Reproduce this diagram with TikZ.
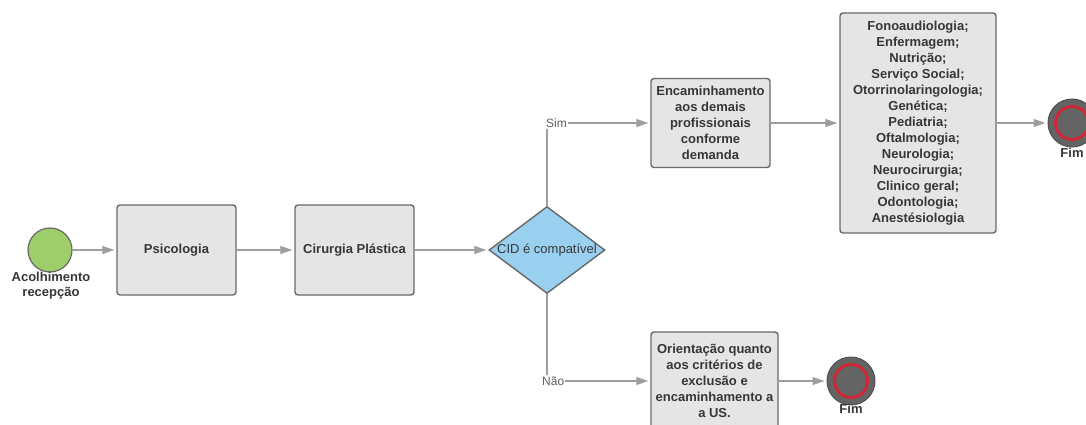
\documentclass[tikz,border=0pt]{standalone}
\usepackage{fontspec}
\setmainfont{Liberation Sans}
\usetikzlibrary{arrows.meta,shapes.geometric}

\definecolor{boxfill}{RGB}{229,229,229}
\definecolor{boxline}{RGB}{105,105,105}
\definecolor{textgray}{RGB}{55,55,55}
\definecolor{flowgray}{RGB}{158,158,158}
\definecolor{startgreen}{RGB}{157,206,105}
\definecolor{cidblue}{RGB}{153,208,240}
\definecolor{endgray}{RGB}{100,100,100}
\definecolor{endred}{RGB}{214,36,52}

\tikzset{
  box/.style={draw=boxline, fill=boxfill, rounded corners=3pt, line width=1.4pt,
    align=center, inner sep=0pt, text=textgray, font=\fontsize{13}{16}\selectfont\bfseries},
  decision/.style={diamond, draw=boxline, fill=cidblue, line width=1.4pt,
    minimum width=116pt, minimum height=87pt, inner sep=0pt},
  cidtext/.style={text=textgray, inner sep=0pt, font=\fontsize{13}{16}\selectfont},
  start/.style={circle, draw=boxline, fill=startgreen, line width=1.2pt, minimum size=44pt, inner sep=0pt},
  finish/.style={circle, draw=endgray!80!black, fill=endgray, line width=1pt, minimum size=48pt, inner sep=0pt,
    path picture={\draw[endred, line width=2.8pt] (path picture bounding box.center) circle (16.5pt);}},
  caption/.style={align=center, inner sep=0pt, text=textgray, font=\fontsize{13}{15}\selectfont\bfseries},
  answer/.style={inner sep=1pt, text=textgray!80, font=\fontsize{12}{14}\selectfont},
  line/.style={draw=flowgray, line width=1.3pt},
  flow/.style={line, -{Triangle[length=12pt,width=8pt]}, shorten >=2pt}
}

\begin{document}
\begin{tikzpicture}[x=1pt,y=-1pt]

\useasboundingbox (0,0) rectangle (1086,425);

% Start
\node[start] (acolh) at (50,250) {};
\node[caption] (acolhtext) at (51,286) {Acolhimento\\recepção};

% Main row
\node[box, minimum width=119pt, minimum height=90pt] (psico) at (176.5,250) {Psicologia};
\node[box, minimum width=119pt, minimum height=90pt] (cirurgia) at (354.5,250) {Cirurgia Plástica};
\node[decision] (cid) at (547,250) {};
\node[cidtext] (cidlabel) at (cid.center) {CID é compatível};

% Sim branch
\node[answer, anchor=west] (sim) at (545,123) {Sim};
\node[box, minimum width=119pt, minimum height=89pt] (encam) at (710.5,123) {Encaminhamento\\aos demais\\profissionais\\conforme\\demanda};
\node[box, minimum width=156pt, minimum height=220pt] (espec) at (918,123) {Fonoaudiologia;\\Enfermagem;\\Nutrição;\\Serviço Social;\\Otorrinolaringologia;\\Genética;\\Pediatria;\\Oftalmologia;\\Neurologia;\\Neurocirurgia;\\Clinico geral;\\Odontologia;\\Anestésiologia};
\node[finish] (fimsim) at (1072,123) {};
\node[caption] (fimsimtext) at (1072,153) {Fim};

% Nao branch
\node[answer, anchor=west] (nao) at (541,381) {Não};
\node[box, minimum width=127pt, minimum height=98pt] (orient) at (714.5,381) {Orientação quanto\\aos critérios de\\exclusão e\\encaminhamento a\\a US.};
\node[finish] (fimnao) at (851,381) {};
\node[caption] (fimnaotext) at (851,409) {Fim};

% Connectors
\draw[flow] (acolh) -- (psico);
\draw[flow] (psico) -- (cirurgia);
\draw[flow] (cirurgia) -- (cid);
\draw[line] (cid.north) -- (cid.north |- sim.south);
\draw[flow] (sim) -- (encam);
\draw[flow] (encam) -- (espec);
\draw[flow] (espec) -- (fimsim);
\draw[line] (cid.south) -- (cid.south |- nao.north);
\draw[flow] (nao) -- (orient);
\draw[flow] (orient) -- (fimnao);

\end{tikzpicture}
\end{document}
